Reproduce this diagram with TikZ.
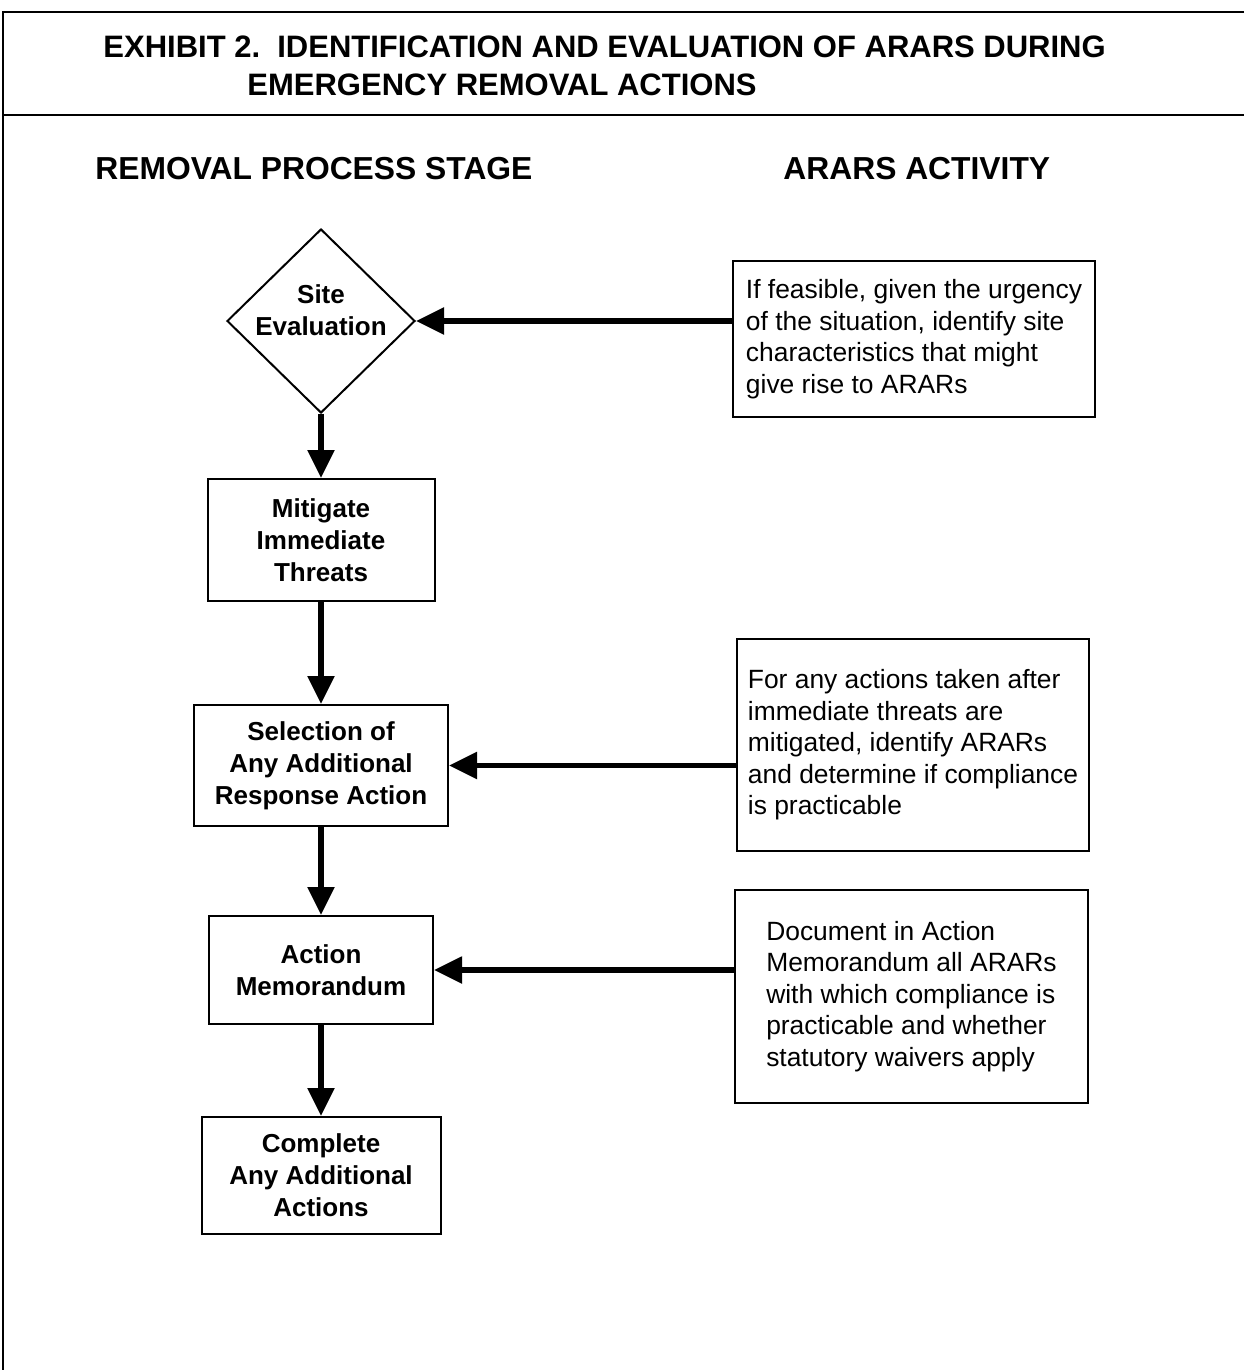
\documentclass[tikz,border=0pt]{standalone}
\usepackage{fontspec}
\setmainfont{Liberation Sans}
\usetikzlibrary{shapes.geometric, arrows.meta}

\begin{document}
\begin{tikzpicture}[x=0.5pt, y=-0.5pt,
  every node/.style={inner sep=0pt},
  heading/.style={anchor=base west, font=\fontsize{15.5pt}{19pt}\selectfont\bfseries},
  stagebox/.style={draw, line width=1pt, rectangle, align=center,
    font=\fontsize{13pt}{16pt}\selectfont\bfseries},
  stagediamond/.style={draw, line width=1pt, diamond, minimum width=94pt, minimum height=92pt},
  actbox/.style={draw, line width=1pt, rectangle, align=left,
    font=\fontsize{13.2pt}{15.75pt}\selectfont},
  flow/.style={line width=2.6pt, -{Triangle[length=14pt, width=13pt]}}]
  \useasboundingbox (0,0) rectangle (1244,1370);
  % frame and title
  \draw[line width=1.2pt] (1244,12) -- (3,12) -- (3,1370);
  \draw[line width=1.2pt] (3,115) -- (1244,115);
  \node[heading] (title1) at (103,58) {EXHIBIT 2.\ \ IDENTIFICATION AND EVALUATION OF ARARS DURING};
  \node[heading] (title2) at (247,96) {EMERGENCY REMOVAL ACTIONS};
  \node[heading, font=\fontsize{15.9pt}{19pt}\selectfont\bfseries] (stagehead) at (95,179) {REMOVAL PROCESS STAGE};
  \node[heading, font=\fontsize{15.9pt}{19pt}\selectfont\bfseries] (acthead) at (783,179) {ARARS ACTIVITY};
  % removal process stages
  \node[stagediamond, label={[font=\fontsize{13pt}{16pt}\selectfont\bfseries, align=center, yshift=5.5pt]center:Site\\Evaluation}] (site) at (321,321) {};
  \node[stagebox, minimum width=113.5pt, minimum height=61pt] (mit) at (321,540) {Mitigate\\Immediate\\Threats};
  \node[stagebox, minimum width=127pt, minimum height=60.5pt] (sel) at (321,765.5) {Selection of\\Any Additional\\Response Action};
  \node[stagebox, minimum width=112pt, minimum height=54pt] (memo) at (321,970) {Action\\Memorandum};
  \node[stagebox, minimum width=119.5pt, minimum height=58.5pt] (done) at (321,1175.5) {Complete\\Any Additional\\Actions};
  % ARARs activities
  \node[actbox, minimum width=181pt, minimum height=78pt] (feas) at (914,339) {If feasible, given the urgency\\of the situation, identify site\\characteristics that might\\give rise to ARARs};
  \node[actbox, minimum width=176pt, minimum height=106pt] (comp) at (913,745) {For any actions taken after\\immediate threats are\\mitigated, identify ARARs\\and determine if compliance\\is practicable};
  \node[actbox, minimum width=176.5pt, minimum height=106.5pt] (docm) at (911.5,996.5) {Document in Action\\Memorandum all ARARs\\with which compliance is\\practicable and whether\\statutory waivers apply};
  % connectors
  \draw[flow] (feas.west |- site.east) -- (site.east);
  \draw[flow] (site.south) -- (mit.north);
  \draw[flow] (mit.south) -- (sel.north);
  \draw[flow] (comp.west |- sel.east) -- (sel.east);
  \draw[flow] (sel.south) -- (memo.north);
  \draw[flow] (docm.west |- memo.east) -- (memo.east);
  \draw[flow] (memo.south) -- (done.north);
\end{tikzpicture}
\end{document}
